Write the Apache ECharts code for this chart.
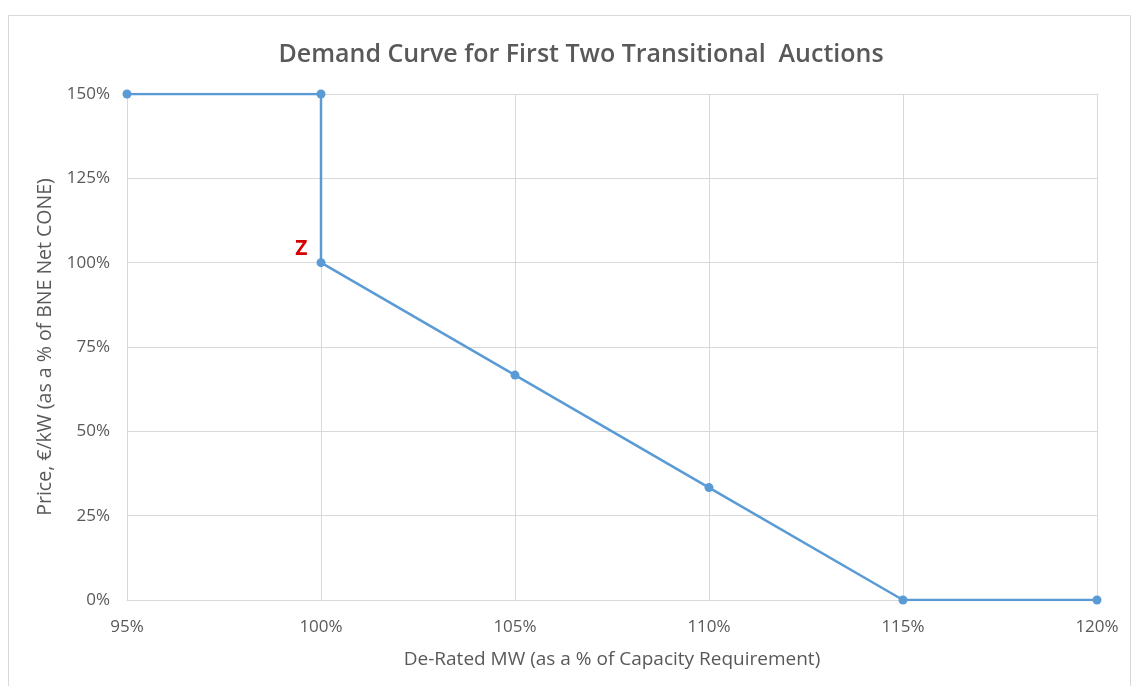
<!DOCTYPE html>
<html>
<head>
<meta charset="utf-8">
<script src="https://cdn.jsdelivr.net/npm/echarts@6/dist/echarts.min.js"></script>
<style>html,body{margin:0;padding:0;background:#fff;}#c{width:1132px;height:686px;}</style>
</head>
<body>
<div id="c"></div>
<script>
const xValues = [95, 100, 100, 105, 110, 115, 120];
const yValues = [150, 150, 100, 66.67, 33.33, 0, 0];
const xTicks = { min: 95, max: 120, interval: 5 };
const yTicks = { min: 0, max: 150, interval: 25 };
const titleText = 'Demand Curve for First Two Transitional  Auctions';
const xName = 'De-Rated MW (as a % of Capacity Requirement)';
const yName = 'Price, €/kW (as a % of BNE Net CONE)';
const zPointIndex = 2;

const font = '"Open Sans", "Liberation Sans", sans-serif';
const data = xValues.map((x, i) => {
  const d = { value: [x, yValues[i]] };
  if (i === zPointIndex) {
    d.label = { show: true, formatter: 'Z', position: 'left', offset: [-4, -14], color: '#d40000', fontSize: 21, fontWeight: 'bold', fontFamily: font };
  }
  return d;
});

const chart = echarts.init(document.getElementById('c'));
chart.setOption({
  animation: false,
  backgroundColor: '#fff',
  title: {
    text: titleText, left: 576, top: 37, textAlign: 'center',
    textStyle: { color: '#595959', fontSize: 25, fontWeight: 600, fontFamily: font }
  },
  graphic: [{ type: 'rect', shape: { x: 8.5, y: 15.5, width: 1122, height: 700 }, style: { fill: 'none', stroke: '#d9d9d9', lineWidth: 1 }, silent: true }],
  grid: { left: 127, right: 35, top: 94, bottom: 86 },
  xAxis: {
    type: 'value', min: xTicks.min, max: xTicks.max, interval: xTicks.interval,
    name: xName, nameLocation: 'middle', nameGap: 50,
    nameTextStyle: { color: '#595959', fontSize: 19, fontFamily: font },
    axisLine: { show: true, lineStyle: { color: '#d9d9d9' } },
    axisTick: { show: false },
    axisLabel: { color: '#595959', fontSize: 17, margin: 19, formatter: '{value}%', fontFamily: font },
    splitLine: { show: true, lineStyle: { color: '#d9d9d9' } }
  },
  yAxis: {
    type: 'value', min: yTicks.min, max: yTicks.max, interval: yTicks.interval,
    name: yName, nameLocation: 'middle', nameGap: 67, nameRotate: 90,
    nameTextStyle: { color: '#595959', fontSize: 19.5, fontFamily: font },
    axisLine: { show: false }, axisTick: { show: false },
    axisLabel: { color: '#595959', fontSize: 17, margin: 17, formatter: '{value}%', fontFamily: font },
    splitLine: { show: true, lineStyle: { color: '#d9d9d9' } }
  },
  series: [{
    type: 'line', data: data,
    lineStyle: { color: '#5b9bd5', width: 2.5 },
    itemStyle: { color: '#5b9bd5' },
    symbol: 'circle', symbolSize: 9
  }]
});
</script>
</body>
</html>
